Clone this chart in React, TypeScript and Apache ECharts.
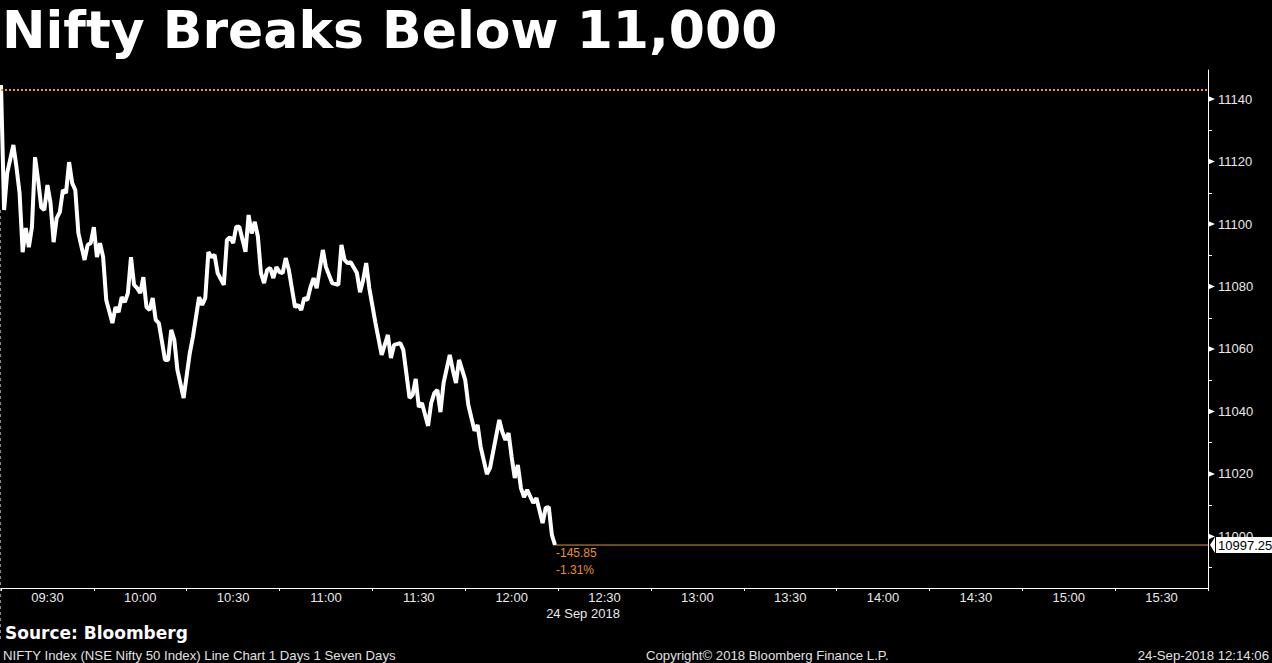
import React, { useEffect, useRef } from "react";
import * as echarts from "echarts";

const titleText = "Nifty Breaks Below 11,000";
const times = [
  "09:15", "09:16", "09:17", "09:19", "09:20", "09:21", "09:22", "09:23", "09:24", "09:25",
  "09:26", "09:27", "09:28", "09:29", "09:30", "09:31", "09:32", "09:33", "09:34", "09:35",
  "09:36", "09:37", "09:38", "09:39", "09:40", "09:42", "09:43", "09:44", "09:45", "09:46",
  "09:47", "09:48", "09:49", "09:51", "09:52", "09:53", "09:54", "09:55", "09:56", "09:57",
  "09:58", "09:59", "10:00", "10:01", "10:02", "10:03", "10:04", "10:05", "10:06", "10:08",
  "10:09", "10:10", "10:11", "10:12", "10:14", "10:16", "10:17", "10:19", "10:20", "10:21",
  "10:22", "10:23", "10:24", "10:25", "10:27", "10:28", "10:29", "10:30", "10:31", "10:32",
  "10:34", "10:35", "10:36", "10:37", "10:38", "10:39", "10:40", "10:41", "10:42", "10:43",
  "10:44", "10:45", "10:46", "10:47", "10:48", "10:50", "10:51", "10:52", "10:53", "10:54",
  "10:55", "10:56", "10:57", "10:59", "11:00", "11:02", "11:04", "11:05", "11:06", "11:07",
  "11:08", "11:10", "11:11", "11:12", "11:13", "11:14", "11:16", "11:18", "11:20", "11:21",
  "11:22", "11:24", "11:25", "11:27", "11:28", "11:29", "11:30", "11:31", "11:33", "11:34",
  "11:35", "11:36", "11:37", "11:38", "11:40", "11:41", "11:42", "11:43", "11:45", "11:46",
  "11:48", "11:49", "11:50", "11:52", "11:53", "11:56", "11:57", "11:58", "11:59", "12:00",
  "12:01", "12:02", "12:03", "12:04", "12:05", "12:07", "12:08", "12:10", "12:11", "12:12",
  "12:13", "12:14",
];
const values = [
  11144.5, 11104.5, 11116.3, 11125.3, 11118.2, 11109.9, 11091.0, 11098.7, 11092.6, 11099.0,
  11121.4, 11114.0, 11105.4, 11104.5, 11112.5, 11106.7, 11094.2, 11101.9, 11103.8, 11110.9,
  11109.9, 11119.8, 11113.1, 11110.9, 11097.1, 11088.5, 11093.3, 11093.9, 11099.0, 11089.4,
  11093.9, 11089.4, 11075.7, 11068.3, 11073.4, 11071.8, 11076.6, 11075.0, 11077.9, 11089.4,
  11080.5, 11079.5, 11077.9, 11083.0, 11073.4, 11072.5, 11076.3, 11069.3, 11068.3, 11056.5,
  11056.5, 11066.1, 11062.9, 11053.3, 11044.3, 11058.7, 11063.8, 11076.6, 11074.1, 11076.3,
  11091.0, 11089.4, 11090.1, 11084.3, 11080.5, 11094.9, 11095.8, 11093.9, 11099.1, 11099.1,
  11091.1, 11102.9, 11097.0, 11100.7, 11096.0, 11084.3, 11081.1, 11085.3, 11085.9, 11082.7,
  11086.2, 11084.6, 11084.3, 11089.1, 11085.3, 11073.4, 11074.1, 11072.5, 11076.3, 11075.7,
  11079.8, 11082.7, 11079.5, 11091.7, 11086.2, 11081.1, 11080.5, 11093.3, 11088.5, 11087.5,
  11087.8, 11084.3, 11078.2, 11082.0, 11087.5, 11079.5, 11068.3, 11058.1, 11064.5, 11057.1,
  11061.3, 11061.9, 11059.7, 11044.3, 11045.3, 11050.4, 11041.4, 11042.7, 11035.4, 11042.7,
  11045.9, 11046.9, 11039.8, 11049.1, 11058.1, 11053.3, 11049.1, 11056.5, 11050.1, 11042.1,
  11033.8, 11035.7, 11028.6, 11020.0, 11021.9, 11037.3, 11033.4, 11030.9, 11033.1, 11025.4,
  11018.7, 11022.9, 11015.5, 11012.6, 11014.9, 11010.7, 11012.3, 11004.3, 11009.1, 11009.4,
  11000.5, 10997.25,
];
const prevClose = 11143.1;
const xLabels = ["09:30", "10:00", "10:30", "11:00", "11:30", "12:00", "12:30", "13:00", "13:30", "14:00", "14:30", "15:00", "15:30"];
const yTicks = [11000, 11020, 11040, 11060, 11080, 11100, 11120, 11140];
const yMinorTicks = [10990, 11010, 11030, 11050, 11070, 11090, 11110, 11130];
const dateLabel = "24 Sep 2018";
const sourceText = "Source: Bloomberg";
const footLeft = "NIFTY Index (NSE Nifty 50 Index) Line Chart 1 Days 1 Seven Days";
const footMid = "Copyright\u00a9 2018 Bloomberg Finance L.P.";
const footRight = "24-Sep-2018 12:14:06";

const OPEN_MIN = 9 * 60 + 15;
const toMin = (t: string) => {
  const [h, m] = t.split(":").map(Number);
  return h * 60 + m - OPEN_MIN;
};

export default function App() {
  const ref = useRef<HTMLDivElement>(null);
  useEffect(() => {
    document.body.style.margin = "0";
    document.body.style.background = "#000";
    const chart = echarts.init(ref.current!, null, { renderer: "svg" });
    const data = times.map((t, i) => [toMin(t), values[i]]);
    const last = data[data.length - 1];
    const lastVal = values[values.length - 1];
    const chg = lastVal - prevClose;
    const pct = (chg / prevClose) * 100;
    const axisFont = { fontFamily: "Liberation Sans", fontSize: 13, color: "#e8e8e8" };
    const yMin = 10983.5;
    const yMax = 11149.3;
    const lastLine = [[last[0], lastVal], [390, lastVal]];
    chart.setOption({
      animation: false,
      backgroundColor: "#000",
      grid: { left: 1, right: 64, top: 70, bottom: 75 },
      xAxis: [
        { type: "value", min: 0, max: 390, show: false },
        {
          type: "category",
          data: xLabels,
          boundaryGap: true,
          position: "bottom",
          axisLine: { show: true, onZero: false, lineStyle: { color: "#ffffff", width: 1 } },
          axisTick: { show: true, length: 3, lineStyle: { color: "#ffffff" } },
          axisLabel: { ...axisFont, margin: 3 },
          splitLine: { show: false },
        },
      ],
      yAxis: [
        {
          type: "value",
          position: "right",
          min: yMin,
          max: yMax,
          axisLine: { show: true, onZero: false, lineStyle: { color: "#ffffff", width: 1 } },
          axisTick: { show: false },
          axisLabel: {
            ...axisFont,
            margin: 10,
            customValues: yTicks,
            formatter: (v: number) => String(Math.round(v)),
          },
          splitLine: { show: false },
        },
        {
          type: "value",
          position: "right",
          min: yMin,
          max: yMax,
          axisLine: { show: false, onZero: false },
          axisTick: { show: true, customValues: yMinorTicks, length: 4, lineStyle: { color: "#ffffff", width: 1 } },
          axisLabel: { show: false, customValues: yMinorTicks },
          splitLine: { show: false },
        },
      ],
      series: [
        {
          type: "line",
          xAxisIndex: 0,
          yAxisIndex: 0,
          data: lastLine,
          showSymbol: false,
          symbol: "none",
          clip: false,
          z: 1,
          lineStyle: { color: "#e0953a", width: 1 },
          endLabel: {
            show: true,
            distance: 8,
            formatter: () => lastVal.toFixed(2),
            backgroundColor: "#ffffff",
            color: "#000000",
            fontFamily: "Liberation Sans",
            fontSize: 13,
            padding: [2, 3, 1, 2],
          },
        },
        {
          type: "line",
          xAxisIndex: 0,
          yAxisIndex: 0,
          data,
          showSymbol: false,
          symbol: "none",
          clip: false,
          z: 3,
          lineStyle: { color: "#ffffff", width: 4 },
          markLine: {
            silent: true,
            symbol: ["none", "none"],
            label: { show: false },
            lineStyle: { color: "#f5952a", type: "dotted", width: 2, opacity: 1 },
            data: [[{ coord: [0, prevClose] }, { coord: [390, prevClose] }]],
          },
        },
      ],
    });
    const p = chart.convertToPixel({ seriesIndex: 1 }, last) as number[];
    const axisX = chart.convertToPixel({ xAxisIndex: 0 }, 390) as number;
    const orange = "#e8912d";
    const tickArrows = yTicks.map((v) => {
      const y = chart.convertToPixel({ yAxisIndex: 0 }, v) as number;
      return {
        type: "polygon",
        shape: { points: [[axisX, y - 3], [axisX, y + 3], [axisX + 7, y]] },
        style: { fill: "#ffffff" },
      };
    });
    chart.setOption({
      graphic: [
        {
          type: "text",
          left: 2,
          top: 4,
          style: { text: titleText, fill: "#ffffff", font: "bold 52px 'DejaVu Sans'" },
        },
        {
          type: "line",
          shape: { x1: 0.5, y1: 210, x2: 0.5, y2: 640 },
          style: { stroke: "#888888", lineWidth: 1, lineDash: [3, 3] },
          z: -1,
        },
        ...tickArrows,
        {
          type: "polygon",
          shape: { points: [[axisX + 2, p[1]], [axisX + 7, p[1] - 8], [axisX + 7, p[1] + 8]] },
          style: { fill: "#ffffff" },
          z: 10,
        },
        {
          type: "text",
          x: p[0] + 1,
          y: p[1] + 8,
          style: { text: chg.toFixed(2), fill: orange, font: "12px 'Liberation Sans'", textVerticalAlign: "middle" },
        },
        {
          type: "text",
          x: p[0] + 1,
          y: p[1] + 25,
          style: { text: pct.toFixed(2) + "%", fill: orange, font: "12px 'Liberation Sans'", textVerticalAlign: "middle" },
        },
        {
          type: "text",
          x: 583,
          y: 613,
          style: { text: dateLabel, fill: "#e8e8e8", font: "13px 'Liberation Sans'", textAlign: "center", textVerticalAlign: "middle" },
        },
        {
          type: "text",
          x: 5,
          y: 633,
          style: { text: sourceText, fill: "#ffffff", font: "bold 17px 'DejaVu Sans'", textVerticalAlign: "middle" },
        },
        {
          type: "text",
          x: 3,
          y: 655,
          style: { text: footLeft, fill: "#e0e0e0", font: "13.2px 'Liberation Sans'", textVerticalAlign: "middle" },
        },
        {
          type: "text",
          x: 646,
          y: 655,
          style: { text: footMid, fill: "#e0e0e0", font: "13.2px 'Liberation Sans'", textVerticalAlign: "middle" },
        },
        {
          type: "text",
          x: 1269,
          y: 655,
          style: { text: footRight, fill: "#e0e0e0", font: "13.2px 'Liberation Sans'", textAlign: "right", textVerticalAlign: "middle" },
        },
      ],
    });
    return () => chart.dispose();
  }, []);
  return <div ref={ref} style={{ width: 1272, height: 663, background: "#000" }} />;
}
